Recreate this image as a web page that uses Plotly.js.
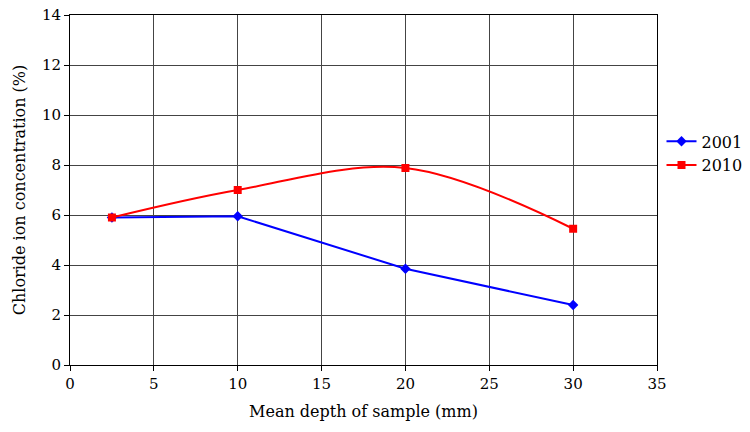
<!DOCTYPE html>
<html>
<head>
<meta charset="utf-8">
<script src="https://cdn.plot.ly/plotly-3.0.1.min.js"></script>
<style>html,body{margin:0;padding:0;background:#fff;}#chart{width:750px;height:432px;}</style>
</head>
<body>
<div id="chart"></div>
<script>
const depth = [2.5, 10, 20, 30];
const conc2001 = [5.9, 5.95, 3.85, 2.4];
const conc2010 = [5.9, 7.0, 7.88, 5.45];
const seriesNames = ['2001', '2010'];

const traces = [
  {x: depth, y: conc2001, name: seriesNames[0], type: 'scatter', mode: 'lines+markers',
   line: {color: '#0000FF', width: 2}, marker: {symbol: 'diamond', size: 8, color: '#0000FF'}},
  {x: depth, y: conc2010, name: seriesNames[1], type: 'scatter', mode: 'lines+markers',
   line: {color: '#FF0000', width: 2, shape: 'spline', smoothing: 1}, marker: {symbol: 'square', size: 8, color: '#FF0000'}}
];

const fam = '"DejaVu Serif", "Liberation Serif", serif';
const layout = {
  width: 750, height: 432,
  margin: {l: 70, r: 93, t: 15, b: 67},
  paper_bgcolor: '#fff', plot_bgcolor: '#fff',
  font: {family: fam, size: 15, color: '#000'},
  showlegend: true,
  legend: {xref: 'container', yref: 'container', x: 0.882, y: 0.645, xanchor: 'left', yanchor: 'middle',
           font: {family: fam, size: 16}, bgcolor: 'rgba(0,0,0,0)', tracegroupgap: 0},
  xaxis: {
    range: [0, 35], tickvals: [0,5,10,15,20,25,30,35], ticks: 'outside', ticklen: 5, tickcolor: '#000',
    showgrid: true, gridcolor: '#444', gridwidth: 1, zeroline: false,
    showline: true, linecolor: '#000', linewidth: 1, mirror: true,
    title: {text: 'Mean depth of sample (mm)', font: {family: fam, size: 16}, standoff: 13},
    tickfont: {family: fam, size: 15}
  },
  yaxis: {
    range: [0, 14], tickvals: [0,2,4,6,8,10,12,14], ticks: 'outside', ticklen: 5, tickcolor: '#000',
    showgrid: true, gridcolor: '#444', gridwidth: 1, zeroline: false,
    showline: true, linecolor: '#000', linewidth: 1, mirror: true,
    title: {text: 'Chloride ion concentration (%)', font: {family: fam, size: 16}, standoff: 12},
    tickfont: {family: fam, size: 15}
  }
};
Plotly.newPlot('chart', traces, layout, {displayModeBar: false, staticPlot: true});
</script>
</body>
</html>
